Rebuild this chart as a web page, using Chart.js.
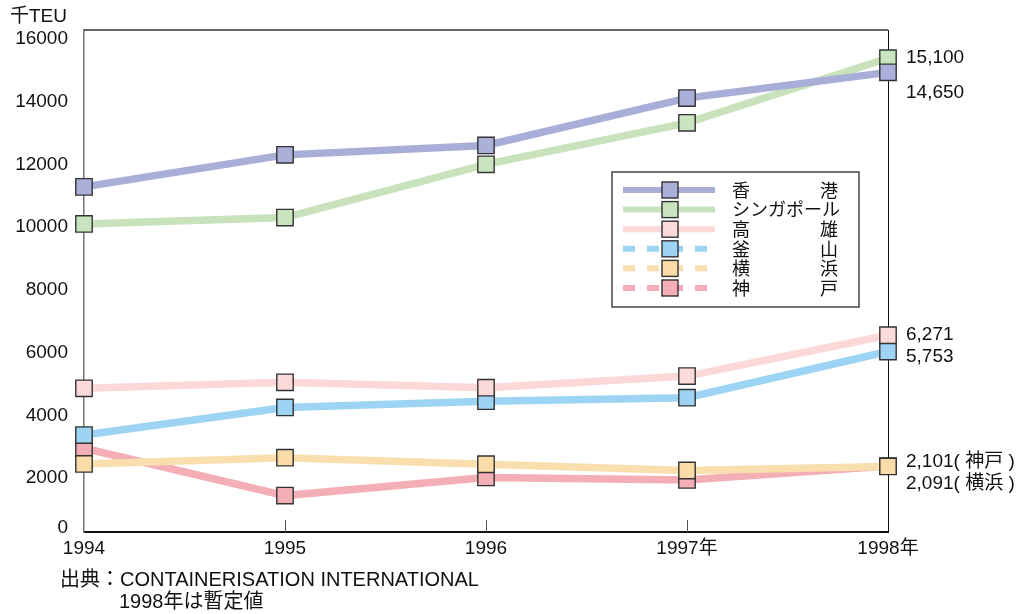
<!DOCTYPE html>
<html>
<head>
<meta charset="utf-8">
<title>主要港湾のコンテナ取扱量</title>
<script src="https://cdn.jsdelivr.net/npm/chart.js@4/dist/chart.umd.min.js"></script>
<style>
  html, body { margin: 0; padding: 0; background: #fff; }
  canvas { display: block; }
</style>
</head>
<body>
<canvas id="chart" width="1021" height="614"></canvas>
<script>
// Container throughput of major ports (thousand TEU)
const years = ['1994', '1995', '1996', '1997年', '1998年'];
const portNames = ['香港', 'シンガポール', '高雄', '釜山', '横浜', '神戸'];

const hongKong  = [11000, 12020, 12320, 13830, 14650];
const singapore = [9820, 10020, 11720, 13040, 15100];
const kaohsiung = [4580, 4770, 4600, 4970, 6271];
const busan     = [3090, 3970, 4170, 4280, 5753];
const yokohama  = [2170, 2370, 2160, 1960, 2091];
const kobe      = [2670, 1160, 1740, 1660, 2101];

const yTicks = [0, 2000, 4000, 6000, 8000, 10000, 12000, 14000, 16000];
const unitLabel = '千TEU';
const sourceLines = ['出典：CONTAINERISATION INTERNATIONAL', '1998年は暫定値'];
// suffix appended to the value printed at the last point
const endSuffix = ['', '', '', '', '( 横浜 )', '( 神戸 )'];

// styling
const lineColors  = ['#a9aed8', '#c8e3bb', '#fcd8d8', '#9dd4f3', '#fadfae', '#f4aeb6'];
const pointColors = ['#aab0d9', '#c9e5c0', '#fcdada', '#9dd4f3', '#fbdca8', '#f4aeb6'];
const legendDashed = [false, false, false, true, true, true];
const endLabelShift = [20, 0, 0, 5, 17, -4];

const FONT = '"Liberation Sans", Arial, "Noto Sans CJK JP", sans-serif';
const TEXT = '#111';

const seriesValues = [hongKong, singapore, kaohsiung, busan, yokohama, kobe];

const datasets = seriesValues.map((vals, i) => ({
  label: portNames[i],
  data: vals,
  borderColor: lineColors[i],
  backgroundColor: pointColors[i],
  borderWidth: 7.5,
  tension: 0,
  pointStyle: 'rect',
  pointRadius: 11.6,
  pointHoverRadius: 11.6,
  pointBackgroundColor: pointColors[i],
  pointBorderColor: '#333',
  pointBorderWidth: 1.4,
  fill: false
}));

const framePlugin = {
  id: 'frame',
  beforeDatasetsDraw(chart) {
    const { ctx, chartArea: a, scales: { x } } = chart;
    ctx.save();
    // top and right edges of the plot frame
    ctx.strokeStyle = '#333';
    ctx.lineWidth = 1.5;
    ctx.beginPath();
    ctx.moveTo(a.left, a.top);
    ctx.lineTo(a.right, a.top);
    ctx.stroke();
    ctx.strokeStyle = '#111';
    ctx.lineWidth = 1;
    ctx.beginPath();
    ctx.moveTo(a.right + 0.5, a.top);
    ctx.lineTo(a.right + 0.5, a.bottom);
    ctx.stroke();
    // inner tick marks on the category axis
    ctx.strokeStyle = '#555';
    ctx.lineWidth = 1;
    for (let i = 1; i < years.length - 1; i++) {
      const px = Math.round(x.getPixelForValue(i)) + 0.5;
      ctx.beginPath();
      ctx.moveTo(px, a.bottom);
      ctx.lineTo(px, a.bottom - 12);
      ctx.stroke();
    }
    ctx.restore();
  }
};

const annotatePlugin = {
  id: 'annotate',
  afterDraw(chart) {
    const { ctx, chartArea: a, scales: { y } } = chart;
    ctx.save();
    ctx.fillStyle = TEXT;
    ctx.font = '19px ' + FONT;

    // value axis labels
    ctx.textAlign = 'right';
    ctx.textBaseline = 'middle';
    yTicks.forEach(v => {
      const py = y.getPixelForValue(v) + (v === 0 ? -4 : 9);
      ctx.fillText(String(v), a.left - 16, py);
    });

    // unit
    ctx.textAlign = 'left';
    ctx.fillText(unitLabel, 10, 17);

    // values at the last year
    const last = years.length - 1;
    seriesValues.forEach((vals, i) => {
      const v = vals[last];
      const txt = v.toLocaleString('en-US') + endSuffix[i];
      ctx.fillText(txt, a.right + 18, y.getPixelForValue(v) + endLabelShift[i]);
    });

    // source note
    ctx.font = '20px ' + FONT;
    ctx.fillText(sourceLines[0], 60, 580);
    ctx.fillText(sourceLines[1], 119, 602);

    // legend
    const bx = a.right - 276, by = a.top + 142, bw = 247, bh = 135;
    ctx.fillStyle = '#fff';
    ctx.fillRect(bx, by, bw, bh);
    ctx.strokeStyle = '#444';
    ctx.lineWidth = 1.5;
    ctx.strokeRect(bx, by, bw, bh);

    const textLeft = bx + 120, textRight = bx + 226;
    portNames.forEach((name, i) => {
      const ry = by + 18 + i * 19.6;
      ctx.save();
      ctx.strokeStyle = lineColors[i];
      ctx.lineWidth = 6;
      ctx.setLineDash(legendDashed[i] ? [12, 12] : []);
      ctx.beginPath();
      ctx.moveTo(bx + 11, ry);
      ctx.lineTo(bx + 103, ry);
      ctx.stroke();
      ctx.restore();

      ctx.fillStyle = pointColors[i];
      ctx.fillRect(bx + 50, ry - 8, 16, 16);
      ctx.strokeStyle = '#333';
      ctx.lineWidth = 1.4;
      ctx.strokeRect(bx + 50, ry - 8, 16, 16);

      // spread the characters across the label column
      ctx.fillStyle = TEXT;
      ctx.font = '18px "Noto Sans CJK JP", sans-serif';
      ctx.textAlign = 'left';
      const chars = Array.from(name);
      const widths = chars.map(c => ctx.measureText(c).width);
      const total = widths.reduce((s, w) => s + w, 0);
      const gap = chars.length > 1 ? (textRight - textLeft - total) / (chars.length - 1) : 0;
      let cx = textLeft;
      chars.forEach((c, k) => {
        ctx.fillText(c, cx, ry);
        cx += widths[k] + Math.max(gap, 0);
      });
    });
    ctx.restore();
  }
};

new Chart(document.getElementById('chart'), {
  type: 'line',
  data: { labels: years, datasets },
  options: {
    responsive: false,
    devicePixelRatio: 1,
    animation: false,
    layout: { padding: { top: 30, right: 133, left: 0, bottom: 0 } },
    plugins: {
      legend: { display: false },
      tooltip: { enabled: false },
      title: { display: false }
    },
    scales: {
      x: {
        type: 'category',
        offset: false,
        grid: { display: false, drawTicks: false },
        border: { display: true, color: '#111', width: 2 },
        ticks: {
          color: TEXT,
          font: { family: FONT, size: 19 },
          padding: 5,
          maxRotation: 0,
          autoSkip: false
        },
        afterFit(scale) { scale.height = 82; }
      },
      y: {
        min: 0,
        max: 16000,
        ticks: { display: false, stepSize: 2000 },
        grid: { display: false, drawTicks: false },
        border: { display: true, color: '#777', width: 1.5 },
        afterFit(scale) { scale.width = 84; }
      }
    }
  },
  plugins: [framePlugin, annotatePlugin]
});
</script>
</body>
</html>
